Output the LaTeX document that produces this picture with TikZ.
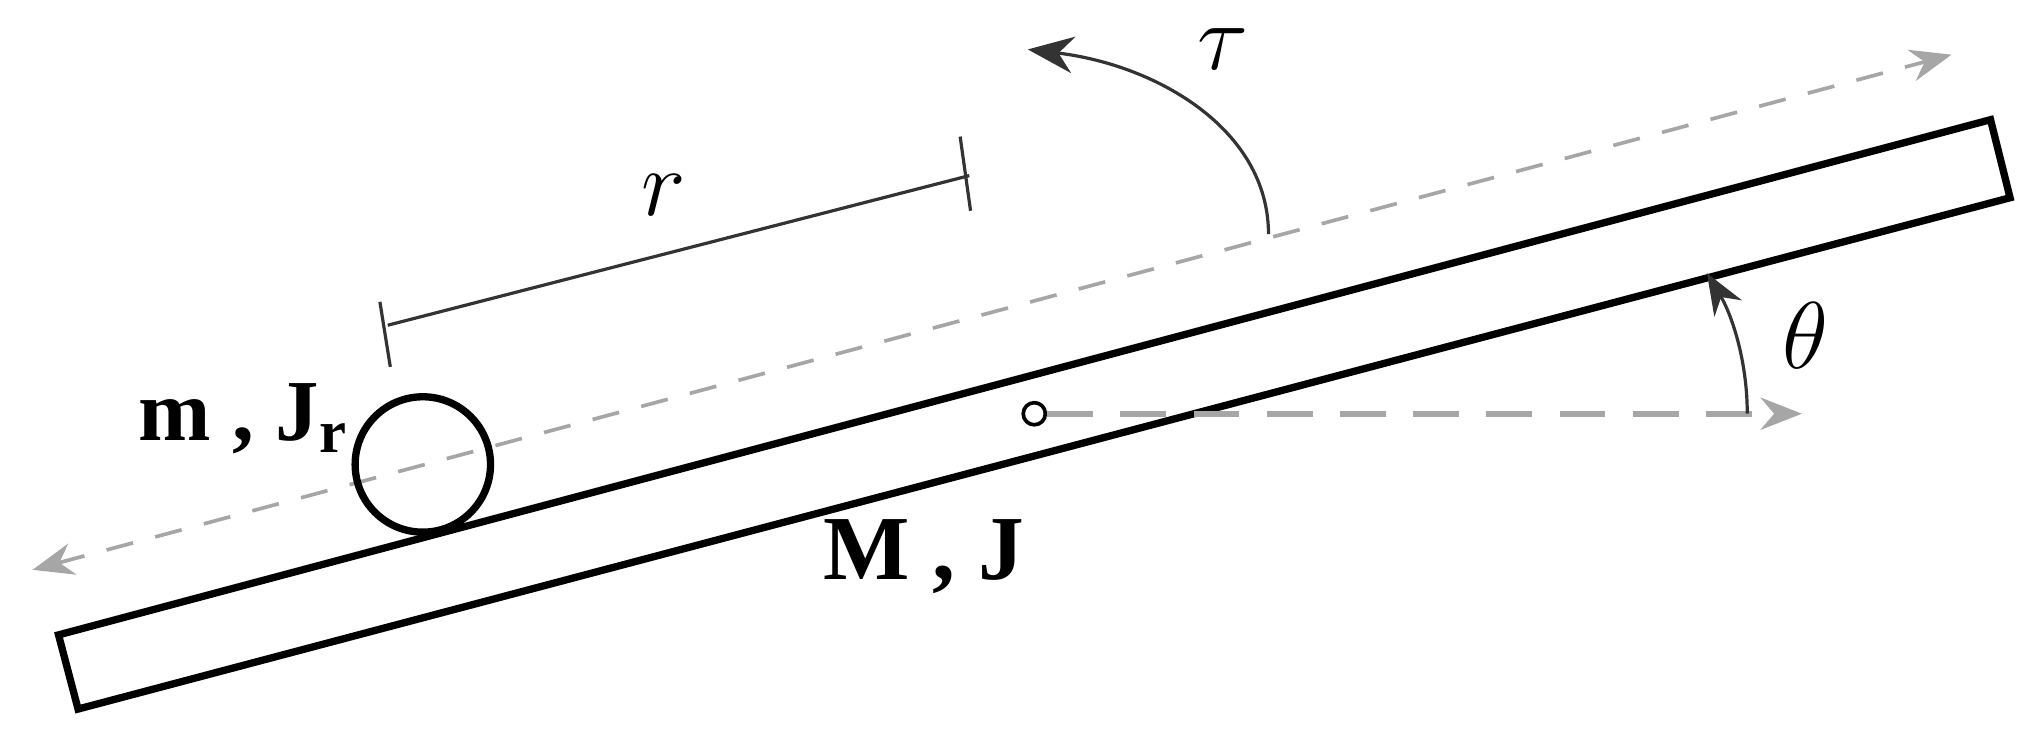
\documentclass[tikz,border=0pt]{standalone}
\usepackage{fontspec}
\setmainfont{Liberation Serif}
\usetikzlibrary{arrows.meta}
\begin{document}
\begin{tikzpicture}[x=0.01cm,y=-0.01cm,
  beam/.style={line width=1.6pt},
  guide/.style={gray!70,dashed,line width=0.8pt,-{Stealth[length=9pt,width=7pt]}},
  dim/.style={line width=0.7pt,black!80},
  lbl/.style={font=\fontsize{20}{22}\selectfont}]
\useasboundingbox (0,0) rectangle (1568,573);
\draw[beam] (45,488) -- (60,545) -- (1545,152) -- (1530,92) -- cycle;
\draw[guide,dash pattern=on 6pt off 5pt,{Stealth[length=9pt,width=7pt]}-{Stealth[length=9pt,width=7pt]}] (25,438) -- (1500,42);
\node[circle,draw,line width=1.6pt,minimum size=1.04cm,inner sep=0] (ball) at (325,357) {};
\node[circle,draw,line width=0.8pt,minimum size=0.17cm,inner sep=0] (piv) at (795,318) {};
\coordinate (hx) at (1385,318);
\draw[guide,line width=1.3pt,dash pattern=on 10pt off 6pt] (piv) -- (hx);
\draw[dim] (292,232) -- (300,282);
\draw[dim] (738,105) -- (746,162);
\draw[dim] (298,250) -- (745,135);
\node[lbl] (r) at (510,150) {$r$};
\draw[dim,-{Stealth[length=10pt,width=8pt]}] (975,180) .. controls (975,100) and (890,50) .. (790,38);
\node[lbl] (tau) at (940,38) {$\tau$};
\draw[dim,-{Stealth[length=9pt,width=7pt]}] (1343,318) .. controls (1343,275) and (1330,240) .. (1312,210);
\node[lbl] (th) at (1388,258) {$\theta$};
\node[font=\fontsize{19}{21}\selectfont\bfseries] (mj) at (187,322) {m , J$_{\mathbf r}$};
\node[font=\fontsize{20}{22}\selectfont\bfseries] (MJ) at (710,428) {M , J};
\end{tikzpicture}
\end{document}
